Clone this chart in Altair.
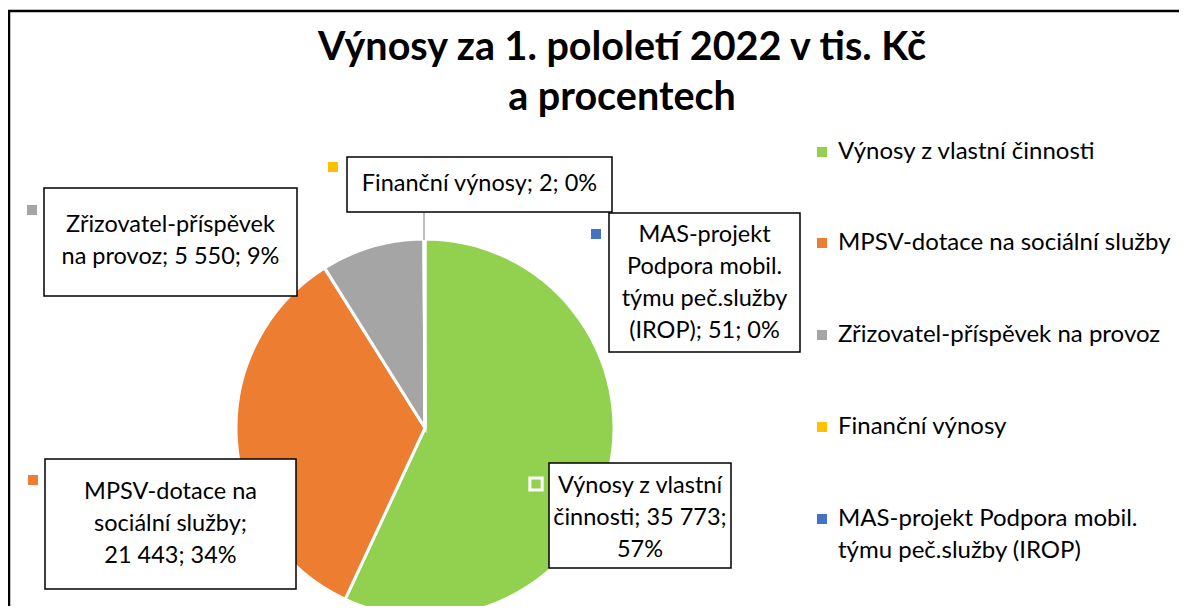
import altair as alt
import pandas as pd

# ---- data ----
categories = [
    "Výnosy z vlastní činnosti",
    "MPSV-dotace na sociální služby",
    "Zřizovatel-příspěvek na provoz",
    "Finanční výnosy",
    "MAS-projekt Podpora mobil. týmu peč.služby (IROP)",
]
values = [35773, 21443, 5550, 2, 51]
colors = ["#92D050", "#ED7D31", "#A5A5A5", "#FFC000", "#4472C4"]
label_texts = [
    "Výnosy z vlastní\nčinnosti; 35 773;\n57%",
    "MPSV-dotace na\nsociální služby;\n21 443; 34%",
    "Zřizovatel-příspěvek\nna provoz; 5 550; 9%",
    "Finanční výnosy; 2; 0%",
    "MAS-projekt\nPodpora mobil.\ntýmu peč.služby\n(IROP); 51; 0%",
]
legend_texts = [
    "Výnosy z vlastní činnosti",
    "MPSV-dotace na sociální služby",
    "Zřizovatel-příspěvek na provoz",
    "Finanční výnosy",
    "MAS-projekt Podpora mobil.\ntýmu peč.služby (IROP)",
]
title_lines = ["Výnosy za 1. pololetí 2022 v tis. Kč", "a procentech"]

# ---- layout (page pixels; chart origin is at page 8,8) ----
OX, OY = 8, 8
W, H = 1171, 598
FONT = "Lato"
FS = 23.5
FS_LEG = 24
LH = 32
CX, CY, R = 425, 428, 189

box_rects = [  # x1, y1, x2, y2
    (549, 463, 731, 568),
    (45, 459, 296, 589),
    (44, 188, 297, 296),
    (347, 157, 612, 212),
    (609, 213, 800, 352),
]
box_text_centers = [(640, 518), (170.5, 524), (170.5, 241), (479.5, 184), (704.5, 283)]
marker_pos = [(536, 484), (33, 480), (32, 210), (333, 167), (596, 234)]
legend_sq_x, legend_txt_x = 822, 838
legend_ys = [152, 243, 335, 427, 519]

color_scale = alt.Scale(domain=categories, range=colors)

pie_df = pd.DataFrame({"cat": categories, "value": values, "idx": range(len(categories))})
pie = alt.Chart(pie_df).mark_arc(outerRadius=R, stroke="white", strokeWidth=3).encode(
    theta=alt.Theta("value:Q", stack=True),
    color=alt.Color("cat:N", scale=color_scale, legend=None),
    order=alt.Order("idx:Q"),
    x=alt.value(CX - OX),
    y=alt.value(CY - OY),
)

n_lines = [t.count("\n") + 1 for t in label_texts]
ann = pd.DataFrame({
    "cat": categories,
    "idx": range(len(categories)),
    "label": label_texts,
    "x1": [b[0] - OX for b in box_rects],
    "y1": [b[1] - OY for b in box_rects],
    "x2": [b[2] - OX for b in box_rects],
    "y2": [b[3] - OY for b in box_rects],
    "tx": [c[0] - OX for c in box_text_centers],
    "ty": [c[1] - OY - (n - 1) * LH / 2 for c, n in zip(box_text_centers, n_lines)],
    "mx": [m[0] - OX for m in marker_pos],
    "my": [m[1] - OY for m in marker_pos],
    "legend": legend_texts,
    "lx": [legend_sq_x - OX] * 5,
    "ltx": [legend_txt_x - OX] * 5,
    "ly": [y - OY for y in legend_ys],
    "lby": [y - OY + 7 for y in legend_ys],
})

leader = alt.Chart(pd.DataFrame({"x": [424 - OX], "y": [212 - OY], "y2": [240 - OY]})).mark_rule(
    color="#A6A6A6", strokeWidth=1.5
).encode(x=alt.X("x:Q", scale=None), y=alt.Y("y:Q", scale=None), y2="y2:Q")

boxes = alt.Chart(ann).mark_rect(fill="white", stroke="black", strokeWidth=1.5).encode(
    x=alt.X("x1:Q", scale=None), x2="x2:Q", y=alt.Y("y1:Q", scale=None), y2="y2:Q"
)
box_text = alt.Chart(ann).mark_text(
    font=FONT, fontSize=FS, lineBreak="\n", lineHeight=LH, align="center", baseline="middle", color="black"
).encode(x=alt.X("tx:Q", scale=None), y=alt.Y("ty:Q", scale=None), text="label:N")

markers = alt.Chart(ann).transform_filter("datum.idx > 0").mark_square(size=100, opacity=1).encode(
    x=alt.X("mx:Q", scale=None), y=alt.Y("my:Q", scale=None),
    color=alt.Color("cat:N", scale=color_scale, legend=None),
)
marker_green = alt.Chart(ann).transform_filter("datum.idx == 0").mark_square(
    size=150, opacity=1, stroke="white", strokeWidth=3
).encode(
    x=alt.X("mx:Q", scale=None), y=alt.Y("my:Q", scale=None),
    fill=alt.Color("cat:N", scale=color_scale, legend=None),
)

leg_sq = alt.Chart(ann).mark_square(size=100, opacity=1).encode(
    x=alt.X("lx:Q", scale=None), y=alt.Y("ly:Q", scale=None),
    color=alt.Color("cat:N", scale=color_scale, legend=None),
)
leg_txt = alt.Chart(ann).mark_text(
    font=FONT, fontSize=FS_LEG, lineBreak="\n", lineHeight=LH, align="left", baseline="alphabetic", color="black"
).encode(x=alt.X("ltx:Q", scale=None), y=alt.Y("lby:Q", scale=None), text="legend:N")

title_df = pd.DataFrame({"t": title_lines, "x": [622 - OX] * 2, "y": [48 - OY, 98 - OY]})
title = alt.Chart(title_df).mark_text(
    font=FONT, fontSize=39.5, fontWeight="bold", align="center", baseline="middle", color="black"
).encode(x=alt.X("x:Q", scale=None), y=alt.Y("y:Q", scale=None), text="t:N")

frame_df = pd.DataFrame({"x": [1, 0], "x2": [1, W], "y": [3, 3], "y2": [H, 3]})
frame = alt.Chart(frame_df).mark_rule(color="black", strokeWidth=2.5).encode(
    x=alt.X("x:Q", scale=None), x2="x2:Q", y=alt.Y("y:Q", scale=None), y2="y2:Q"
)

chart = alt.layer(
    frame, pie, leader, boxes, box_text, markers, marker_green, leg_sq, leg_txt, title
).properties(
    width=W, height=H, padding=0, autosize="none", background="white"
).configure_view(stroke=None)

chart.save("out.html", embed_options={"renderer": "svg", "actions": False})
